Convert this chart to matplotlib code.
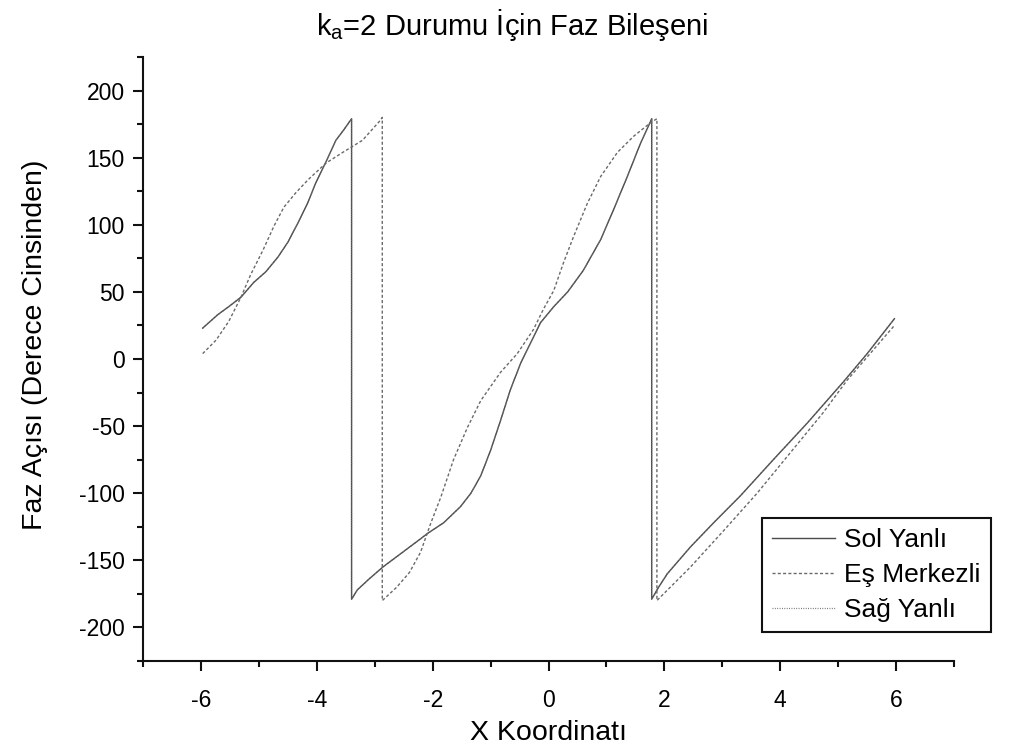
import matplotlib
matplotlib.use("Agg")
import matplotlib.pyplot as plt
from matplotlib.ticker import MultipleLocator

plt.rcParams['font.family'] = ['Liberation Sans', 'DejaVu Sans']
plt.rcParams['mathtext.fontset'] = 'custom'
plt.rcParams['mathtext.rm'] = 'Liberation Sans'
plt.rcParams['axes.unicode_minus'] = False

# Sol Yanlı: phase angle (degrees) vs x, including the wrap-around jumps
sol_x = [-5.97, -5.71, -5.52, -5.31, -5.09, -4.88, -4.67, -4.5, -4.33, -4.16, -4.02,
         -3.84, -3.67, -3.53, -3.40,
         -3.40, -3.3, -3.1, -2.86, -2.55, -2.21, -2.09, -1.81, -1.52, -1.34, -1.17,
         -1.0, -0.83, -0.66, -0.48, -0.31, -0.14, 0.09, 0.33, 0.6, 0.9, 1.12, 1.36,
         1.59, 1.76, 1.78,
         1.78, 1.9, 2.05, 2.45, 2.85, 3.31, 3.88, 4.46, 5.09, 5.5, 5.97]
sol_y = [23, 33, 39, 46, 57, 65, 76, 87, 101, 116, 131,
         147, 163, 171, 179,
         -179, -172, -164, -155, -145, -134, -130, -122, -110, -100, -87,
         -68, -46, -23, -3, 12, 27, 39, 50, 66, 89, 111, 136,
         161, 177, 179,
         -179, -170, -160, -140, -122, -102, -75, -48, -17, 4, 30]

# Eş Merkezli
es_x = [-5.97, -5.74, -5.52, -5.31, -5.14, -4.93, -4.74, -4.57, -4.36, -4.14, -3.84,
        -3.55, -3.21, -2.9, -2.87,
        -2.87, -2.62, -2.4, -2.21, -2.03, -1.86, -1.64, -1.4, -1.17, -0.83, -0.54,
        -0.26, -0.09, 0.09, 0.26, 0.43, 0.67, 0.9, 1.19, 1.47, 1.76, 1.87,
        1.87, 2.45, 3.02, 3.6, 4.17, 4.74, 5.15, 5.97]
es_y = [4, 14, 28, 46, 63, 81, 99, 113, 124, 134, 146,
        154, 163, 178, 180,
        -180, -170, -159, -144, -122, -103, -75, -51, -31, -10, 4,
        22, 37, 51, 72, 91, 116, 136, 154, 166, 176, 179,
        -180, -155, -128, -100, -70, -40, -16, 25]

# Sağ Yanlı lies on the Sol Yanlı curve
sag_x = list(sol_x)
sag_y = list(sol_y)

fig = plt.figure(figsize=(10.15, 7.56), dpi=100)
ax = fig.add_axes([0.1409, 0.1257, 0.7991, 0.7989])

ax.plot(sol_x, sol_y, color='#4a4a4a', lw=1.0, linestyle='-', label='Sol Yanlı')
ax.plot(es_x, es_y, color='#6a6a6a', lw=1.0, linestyle=(0, (2.2, 1.6)), label='Eş Merkezli')
ax.plot(sag_x, sag_y, color='#6a6a6a', lw=0.9, linestyle=(0, (0.7, 1.2)), label='Sağ Yanlı')

ax.set_xlim(-7, 7)
ax.set_ylim(-225, 225)
ax.xaxis.set_major_locator(MultipleLocator(2))
ax.xaxis.set_minor_locator(MultipleLocator(1))
ax.yaxis.set_major_locator(MultipleLocator(50))
ax.yaxis.set_minor_locator(MultipleLocator(25))

for side in ('top', 'right'):
    ax.spines[side].set_visible(False)
for side in ('left', 'bottom'):
    ax.spines[side].set_linewidth(1.5)
    ax.spines[side].set_color('#111111')

ax.tick_params(which='major', direction='out', length=7, width=1.5, color='#111111',
               labelsize=16.5)
ax.tick_params(which='minor', direction='out', length=4, width=1.5, color='#111111')
ax.tick_params(axis='x', which='major', pad=13.5)
ax.tick_params(axis='y', which='major', pad=6)

ax.set_xlabel('X Koordinatı', fontsize=20.5)
ax.set_ylabel('Faz Açısı (Derece Cinsinden)', fontsize=20.5)
ax.xaxis.set_label_coords(0.5, -0.097)
ax.yaxis.set_label_coords(-0.117, 0.523)
fig.text(0.504, 0.967, r'k$\mathregular{_a}$=2 Durumu İçin Faz Bileşeni',
         ha='center', va='center', fontsize=21)

leg = ax.legend(loc='lower left', bbox_to_anchor=(0.763, 0.048), fontsize=19,
                frameon=True, fancybox=False, framealpha=1, edgecolor='#111111',
                handlelength=2.4, handletextpad=0.34, borderpad=0.38,
                labelspacing=0.42, borderaxespad=0)
leg.get_frame().set_linewidth(1.5)
leg.set_clip_on(False)

fig.savefig('out.png', dpi=100)
